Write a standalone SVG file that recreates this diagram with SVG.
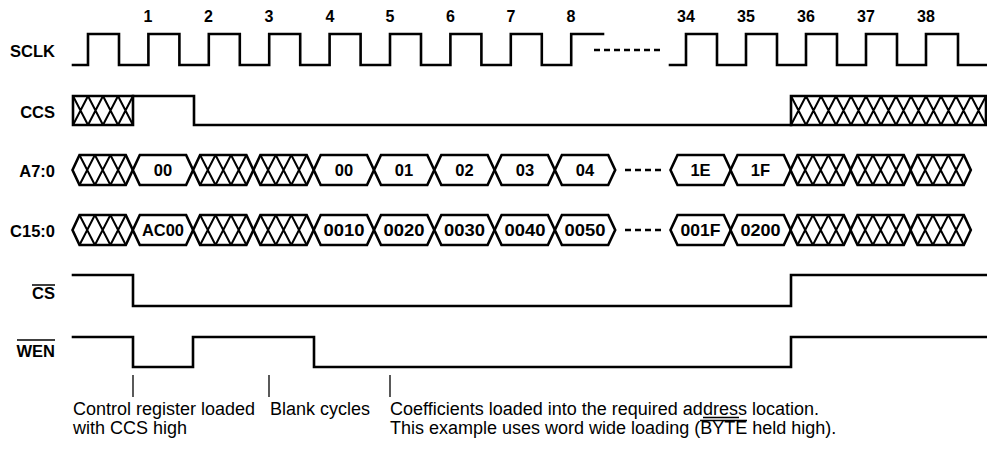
<svg xmlns="http://www.w3.org/2000/svg" xmlns:xlink="http://www.w3.org/1999/xlink" width="987" height="449" viewBox="0 0 987 449">
<style>
  .sig{fill:none;stroke:#000;stroke-width:2.6;stroke-linejoin:miter;stroke-linecap:square}
  .hat{fill:none;stroke:#000;stroke-width:2}
  .hex{fill:#fff;stroke:#000;stroke-width:2.6;stroke-linejoin:miter}
  .dash{fill:none;stroke:#000;stroke-width:2.6;stroke-dasharray:6 4}
  .tick{fill:none;stroke:#000;stroke-width:1.3}
  .ovl{fill:none;stroke:#000;stroke-width:1.5}
  .lab{font-family:"Liberation Sans",Arial,sans-serif;font-weight:bold;font-size:16.5px;text-anchor:end;fill:#000}
  .num{font-family:"Liberation Sans",Arial,sans-serif;font-weight:bold;font-size:16px;text-anchor:middle;fill:#000}
  .bus{font-family:"Liberation Sans",Arial,sans-serif;font-weight:bold;font-size:16.5px;text-anchor:middle;fill:#000}
  .note{font-family:"Liberation Sans",Arial,sans-serif;font-size:18px;fill:#000}
</style>
<defs>
  <polygon id="hexD" class="hex" points="0,15 7,0 53.3,0 60.3,15 53.3,30 7,30"/>
  <g id="hexX">
    <polygon class="hex" points="0,15 7,0 53.3,0 60.3,15 53.3,30 7,30"/>
    <path class="hat" d="M7,0 L22.4,30 M22.4,0 L7,30 M22.4,0 L37.9,30 M37.9,0 L22.4,30 M37.9,0 L53.3,30 M53.3,0 L37.9,30"/>
  </g>
</defs>

<g id="labels">
  <text class="lab" x="55" y="56.5">SCLK</text>
  <text class="lab" x="55" y="118">CCS</text>
  <text class="lab" x="55" y="176.5">A7:0</text>
  <text class="lab" x="55" y="236.5">C15:0</text>
  <text class="lab" x="55" y="299">CS</text>
  <line class="ovl" x1="32" y1="285" x2="55" y2="285"/>
  <text class="lab" x="55" y="357">WEN</text>
  <line class="ovl" x1="17" y1="340" x2="55" y2="340"/>
</g>

<g id="cycle-numbers">
  <text class="num" x="148" y="22">1</text>
  <text class="num" x="208.5" y="22">2</text>
  <text class="num" x="269" y="22">3</text>
  <text class="num" x="330" y="22">4</text>
  <text class="num" x="390" y="22">5</text>
  <text class="num" x="450.5" y="22">6</text>
  <text class="num" x="511" y="22">7</text>
  <text class="num" x="571" y="22">8</text>
  <text class="num" x="686" y="22">34</text>
  <text class="num" x="746" y="22">35</text>
  <text class="num" x="806" y="22">36</text>
  <text class="num" x="866" y="22">37</text>
  <text class="num" x="926" y="22">38</text>
</g>

<g id="sclk">
  <path class="sig" d="M73,65 H88 V34 H119 V65 H148.4 V34 H179.4 V65 H208.8 V34 H239.8 V65 H269.2 V34 H300.2 V65 H329.6 V34 H360.6 V65 H390 V34 H421 V65 H450.4 V34 H481.4 V65 H510.8 V34 H541.8 V65 H571.2 V34 H603"/>
  <line class="dash" x1="594" y1="50" x2="662" y2="50" stroke-linecap="butt"/>
  <path class="sig" d="M670,65 H686 V34 H717 V65 H746 V34 H777 V65 H806 V34 H837 V65 H866 V34 H897 V65 H926 V34 H958 V65 H987"/>
</g>

<g id="ccs">
  <path class="sig" d="M73,96 H133 V125 H73 Z"/>
  <path class="hat" d="M73,96 L88,125 M88,96 L73,125 M88,96 L103,125 M103,96 L88,125 M103,96 L118,125 M118,96 L103,125 M118,96 L133,125 M133,96 L118,125"/>
  <path class="sig" d="M133,96 H194 V125 H791"/>
  <path class="sig" d="M791,96 H986 V125 H791 Z"/>
  <path class="hat" d="M791,96 L806,125 M806,96 L791,125 M806,96 L821,125 M821,96 L806,125 M821,96 L836,125 M836,96 L821,125 M836,96 L851,125 M851,96 L836,125 M851,96 L866,125 M866,96 L851,125 M866,96 L881,125 M881,96 L866,125 M881,96 L896,125 M896,96 L881,125 M896,96 L911,125 M911,96 L896,125 M911,96 L926,125 M926,96 L911,125 M926,96 L941,125 M941,96 L926,125 M941,96 L956,125 M956,96 L941,125 M956,96 L971,125 M971,96 L956,125 M971,96 L986,125 M986,96 L971,125"/>
</g>

<g id="a7-0">
  <use xlink:href="#hexX" href="#hexX" x="72.5" y="155"/>
  <use xlink:href="#hexD" href="#hexD" x="132.8" y="155"/>
  <use xlink:href="#hexX" href="#hexX" x="193.1" y="155"/>
  <use xlink:href="#hexX" href="#hexX" x="253.4" y="155"/>
  <use xlink:href="#hexD" href="#hexD" x="313.7" y="155"/>
  <use xlink:href="#hexD" href="#hexD" x="374" y="155"/>
  <use xlink:href="#hexD" href="#hexD" x="434.3" y="155"/>
  <use xlink:href="#hexD" href="#hexD" x="494.6" y="155"/>
  <use xlink:href="#hexD" href="#hexD" x="554.9" y="155"/>
  <line class="dash" x1="625" y1="170" x2="663" y2="170" stroke-linecap="butt"/>
  <use xlink:href="#hexD" href="#hexD" x="670.5" y="155"/>
  <use xlink:href="#hexD" href="#hexD" x="730.5" y="155"/>
  <use xlink:href="#hexX" href="#hexX" x="790.5" y="155"/>
  <use xlink:href="#hexX" href="#hexX" x="850.5" y="155"/>
  <use xlink:href="#hexX" href="#hexX" x="910.5" y="155"/>
  <text class="bus" x="163" y="176">00</text>
  <text class="bus" x="344" y="176">00</text>
  <text class="bus" x="404" y="176">01</text>
  <text class="bus" x="464.5" y="176">02</text>
  <text class="bus" x="525" y="176">03</text>
  <text class="bus" x="585" y="176">04</text>
  <text class="bus" x="700.5" y="176">1E</text>
  <text class="bus" x="760.5" y="176">1F</text>
</g>

<g id="c15-0">
  <use xlink:href="#hexX" href="#hexX" x="72.5" y="215"/>
  <use xlink:href="#hexD" href="#hexD" x="132.8" y="215"/>
  <use xlink:href="#hexX" href="#hexX" x="193.1" y="215"/>
  <use xlink:href="#hexX" href="#hexX" x="253.4" y="215"/>
  <use xlink:href="#hexD" href="#hexD" x="313.7" y="215"/>
  <use xlink:href="#hexD" href="#hexD" x="374" y="215"/>
  <use xlink:href="#hexD" href="#hexD" x="434.3" y="215"/>
  <use xlink:href="#hexD" href="#hexD" x="494.6" y="215"/>
  <use xlink:href="#hexD" href="#hexD" x="554.9" y="215"/>
  <line class="dash" x1="625" y1="230" x2="663" y2="230" stroke-linecap="butt"/>
  <use xlink:href="#hexD" href="#hexD" x="670.5" y="215"/>
  <use xlink:href="#hexD" href="#hexD" x="730.5" y="215"/>
  <use xlink:href="#hexX" href="#hexX" x="790.5" y="215"/>
  <use xlink:href="#hexX" href="#hexX" x="850.5" y="215"/>
  <use xlink:href="#hexX" href="#hexX" x="910.5" y="215"/>
  <text class="bus" x="163" y="236" textLength="42" lengthAdjust="spacingAndGlyphs">AC00</text>
  <text class="bus" x="344" y="236" textLength="41" lengthAdjust="spacingAndGlyphs">0010</text>
  <text class="bus" x="404" y="236" textLength="41" lengthAdjust="spacingAndGlyphs">0020</text>
  <text class="bus" x="464.5" y="236" textLength="41" lengthAdjust="spacingAndGlyphs">0030</text>
  <text class="bus" x="525" y="236" textLength="41" lengthAdjust="spacingAndGlyphs">0040</text>
  <text class="bus" x="585" y="236" textLength="41" lengthAdjust="spacingAndGlyphs">0050</text>
  <text class="bus" x="700.5" y="236" textLength="40" lengthAdjust="spacingAndGlyphs">001F</text>
  <text class="bus" x="760.5" y="236" textLength="40" lengthAdjust="spacingAndGlyphs">0200</text>
</g>

<g id="cs">
  <path class="sig" d="M73,275 H133 V306 H791 V275 H987"/>
</g>

<g id="wen">
  <path class="sig" d="M73,337 H133 V367 H193 V337 H314 V367 H791 V337 H987"/>
</g>

<g id="connectors">
  <line class="tick" x1="133" y1="375" x2="133" y2="397"/>
  <line class="tick" x1="269" y1="375" x2="269" y2="397"/>
  <line class="tick" x1="390" y1="375" x2="390" y2="397"/>
</g>

<g id="notes">
  <text class="note" x="73" y="415">Control register loaded</text>
  <text class="note" x="73" y="434">with CCS high</text>
  <text class="note" x="270" y="415">Blank cycles</text>
  <text class="note" x="390" y="415">Coefficients loaded into the required address location.</text>
  <line class="tick" x1="703" y1="417.5" x2="739" y2="417.5"/>
  <text class="note" x="390" y="434">This example uses word wide loading (BYTE held high).</text>
  <line class="tick" x1="700" y1="420.5" x2="747" y2="420.5"/>
</g>
</svg>
